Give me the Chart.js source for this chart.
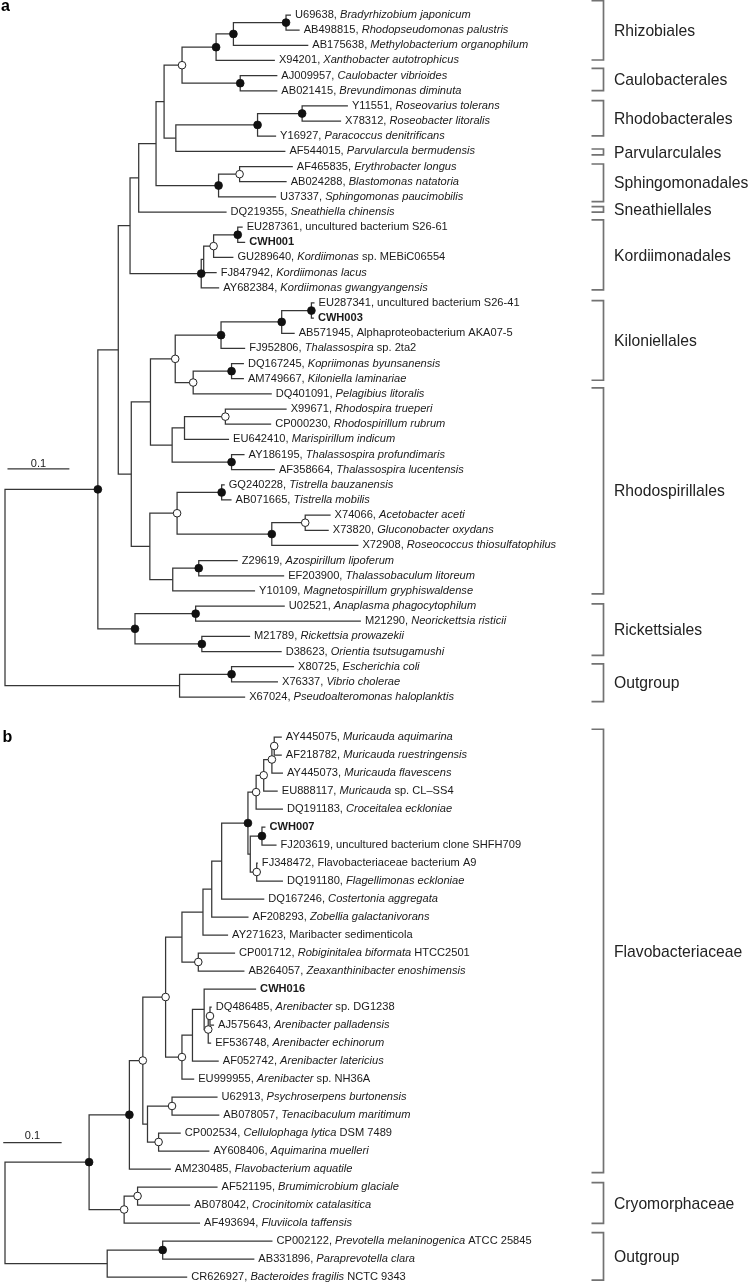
<!DOCTYPE html>
<html>
<head>
<meta charset="utf-8">
<script src="https://cdn.jsdelivr.net/npm/chart.js@4.4.1/dist/chart.umd.min.js"></script>
<style>
  html, body { margin: 0; padding: 0; background: #fff; }
  #wrap { position: relative; width: 750px; height: 1284px; }
  #pa { position: absolute; left: 0; top: 0; width: 750px; height: 720px; }
  #pb { position: absolute; left: 0; top: 720px; width: 750px; height: 564px; }
</style>
</head>
<body>
<div id="wrap">
  <div id="pa"><canvas id="treeA"></canvas></div>
  <div id="pb"><canvas id="treeB"></canvas></div>
</div>
<script>
// ---------- panel a : leaves (top to bottom) ----------
const labelsA = [
  "U69638, *Bradyrhizobium japonicum*",
  "AB498815, *Rhodopseudomonas palustris*",
  "AB175638, *Methylobacterium organophilum*",
  "X94201, *Xanthobacter autotrophicus*",
  "AJ009957, *Caulobacter vibrioides*",
  "AB021415, *Brevundimonas diminuta*",
  "Y11551, *Roseovarius tolerans*",
  "X78312, *Roseobacter litoralis*",
  "Y16927, *Paracoccus denitrificans*",
  "AF544015, *Parvularcula bermudensis*",
  "AF465835, *Erythrobacter longus*",
  "AB024288, *Blastomonas natatoria*",
  "U37337, *Sphingomonas paucimobilis*",
  "DQ219355, *Sneathiella chinensis*",
  "EU287361, uncultured bacterium S26-61",
  "**CWH001**",
  "GU289640, *Kordiimonas* sp. MEBiC06554",
  "FJ847942, *Kordiimonas lacus*",
  "AY682384, *Kordiimonas gwangyangensis*",
  "EU287341, uncultured bacterium S26-41",
  "**CWH003**",
  "AB571945, Alphaproteobacterium AKA07-5",
  "FJ952806, *Thalassospira* sp. 2ta2",
  "DQ167245, *Kopriimonas byunsanensis*",
  "AM749667, *Kiloniella laminariae*",
  "DQ401091, *Pelagibius litoralis*",
  "X99671, *Rhodospira trueperi*",
  "CP000230, *Rhodospirillum rubrum*",
  "EU642410, *Marispirillum indicum*",
  "AY186195, *Thalassospira profundimaris*",
  "AF358664, *Thalassospira lucentensis*",
  "GQ240228, *Tistrella bauzanensis*",
  "AB071665, *Tistrella mobilis*",
  "X74066, *Acetobacter aceti*",
  "X73820, *Gluconobacter oxydans*",
  "X72908, *Roseococcus thiosulfatophilus*",
  "Z29619, *Azospirillum lipoferum*",
  "EF203900, *Thalassobaculum litoreum*",
  "Y10109, *Magnetospirillum gryphiswaldense*",
  "U02521, *Anaplasma phagocytophilum*",
  "M21290, *Neorickettsia risticii*",
  "M21789, *Rickettsia prowazekii*",
  "D38623, *Orientia tsutsugamushi*",
  "X80725, *Escherichia coli*",
  "X76337, *Vibrio cholerae*",
  "X67024, *Pseudoalteromonas haloplanktis*"
];
// distance of each leaf tip from the root (substitutions / site)
const tipsA = [
  0.462, 0.476, 0.490, 0.436, 0.440, 0.440, 0.554, 0.543, 0.438, 0.453,
  0.465, 0.455, 0.438, 0.358, 0.384, 0.388, 0.369, 0.342, 0.346, 0.500,
  0.499, 0.468, 0.388, 0.386, 0.386, 0.431, 0.455, 0.430, 0.362, 0.387,
  0.436, 0.355, 0.366, 0.526, 0.523, 0.571, 0.376, 0.451, 0.404, 0.452,
  0.575, 0.396, 0.447, 0.467, 0.441, 0.388
];
// internal nodes: [id, child, child, depth, support]  f = filled, o = open
const nodesA = [
  ["brady", 0, 1, 0.454, "f"],
  ["rhzA", "brady", 2, 0.369, "f"],
  ["rhz", "rhzA", 3, 0.341, "f"],
  ["caulo", 4, 5, 0.380, "f"],
  ["rc", "rhz", "caulo", 0.286, "o"],
  ["roseo", 6, 7, 0.480, "f"],
  ["rhdb", "roseo", 8, 0.408, "f"],
  ["rp", "rhdb", 9, 0.276, ""],
  ["rcrp", "rc", "rp", 0.257, ""],
  ["ery", 10, 11, 0.379, "o"],
  ["sph", "ery", 12, 0.345, "f"],
  ["s1", "rcrp", "sph", 0.244, ""],
  ["s2", "s1", 13, 0.216, ""],
  ["k1", 14, 15, 0.376, "f"],
  ["k2", "k1", 16, 0.337, "o"],
  ["k3", "k2", 17, 0.321, ""],
  ["kord", "k3", 18, 0.317, "f"],
  ["s3", "s2", "kord", 0.202, ""],
  ["c3", 19, 20, 0.495, "f"],
  ["c3b", "c3", 21, 0.447, "f"],
  ["thal", "c3b", 22, 0.349, "f"],
  ["kop", 23, 24, 0.366, "f"],
  ["pel", "kop", 25, 0.304, "o"],
  ["kilo", "thal", "pel", 0.275, "o"],
  ["rsp1", 26, 27, 0.356, "o"],
  ["rsp2", "rsp1", 28, 0.290, ""],
  ["tprof", 29, 30, 0.366, "f"],
  ["rsp3", "rsp2", "tprof", 0.270, ""],
  ["kr", "kilo", "rsp3", 0.235, ""],
  ["tist", 31, 32, 0.350, "f"],
  ["acet", 33, 34, 0.485, "o"],
  ["acet2", "acet", 35, 0.431, "f"],
  ["ta", "tist", "acet2", 0.278, "o"],
  ["azo", 36, 37, 0.313, "f"],
  ["azo2", "azo", 38, 0.271, ""],
  ["ta2", "ta", "azo2", 0.234, ""],
  ["kr2", "kr", "ta2", 0.204, ""],
  ["alpha", "s3", "kr2", 0.183, ""],
  ["anap", 39, 40, 0.308, "f"],
  ["rick", 41, 42, 0.318, "f"],
  ["ricks", "anap", "rick", 0.210, "f"],
  ["ingr", "alpha", "ricks", 0.150, "f"],
  ["ecoli", 43, 44, 0.366, "f"],
  ["outg", "ecoli", 45, 0.282, ""],
  ["root", "ingr", "outg", 0.000, ""]
];
// clade brackets: [name, from row, to row]
const cladesA = [
  ["Rhizobiales", -0.94, 2.97],
  ["Caulobacterales", 3.52, 4.99],
  ["Rhodobacterales", 5.65, 7.98],
  ["Parvularculales", 8.84, 9.23],
  ["Sphingomonadales", 9.83, 12.32],
  ["Sneathiellales", 12.65, 13.01],
  ["Kordiimonadales", 13.52, 18.14],
  ["Kiloniellales", 18.84, 24.1],
  ["Rhodospirillales", 24.6, 38.19],
  ["Rickettsiales", 38.85, 42.26],
  ["Outgroup", 42.81, 45.3]
];
const scaleBarA = [0.004, 0.1, 29.95]; // start, length, row

// ---------- panel b ----------
const labelsB = [
  "AY445075, *Muricauda aquimarina*",
  "AF218782, *Muricauda ruestringensis*",
  "AY445073, *Muricauda flavescens*",
  "EU888117, *Muricauda* sp. CL–SS4",
  "DQ191183, *Croceitalea eckloniae*",
  "**CWH007**",
  "FJ203619, uncultured bacterium clone SHFH709",
  "FJ348472, Flavobacteriaceae bacterium A9",
  "DQ191180, *Flagellimonas eckloniae*",
  "DQ167246, *Costertonia aggregata*",
  "AF208293, *Zobellia galactanivorans*",
  "AY271623, Maribacter sedimenticola",
  "CP001712, *Robiginitalea biformata* HTCC2501",
  "AB264057, *Zeaxanthinibacter enoshimensis*",
  "**CWH016**",
  "DQ486485, *Arenibacter* sp. DG1238",
  "AJ575643, *Arenibacter palladensis*",
  "EF536748, *Arenibacter echinorum*",
  "AF052742, *Arenibacter latericius*",
  "EU999955, *Arenibacter* sp. NH36A",
  "U62913, *Psychroserpens burtonensis*",
  "AB078057, *Tenacibaculum maritimum*",
  "CP002534, *Cellulophaga lytica* DSM 7489",
  "AY608406, *Aquimarina muelleri*",
  "AM230485, *Flavobacterium aquatile*",
  "AF521195, *Brumimicrobium glaciale*",
  "AB078042, *Crocinitomix catalasitica*",
  "AF493694, *Fluviicola taffensis*",
  "CP002122, *Prevotella melaninogenica* ATCC 25845",
  "AB331896, *Paraprevotella clara*",
  "CR626927, *Bacteroides fragilis* NCTC 9343"
];
const tipsB = [
  0.474, 0.474, 0.476, 0.467, 0.476, 0.446, 0.465, 0.433, 0.476, 0.444,
  0.417, 0.382, 0.394, 0.410, 0.430, 0.354, 0.358, 0.353, 0.366, 0.324,
  0.364, 0.367, 0.301, 0.350, 0.284, 0.364, 0.317, 0.334, 0.458, 0.427,
  0.312
];
const nodesB = [
  ["m1", 0, 1, 0.461, "o"],
  ["m2", "m1", 2, 0.457, "o"],
  ["m3", "m2", 3, 0.443, "o"],
  ["m4", "m3", 4, 0.430, "o"],
  ["c7", 5, 6, 0.440, "f"],
  ["fl", 7, 8, 0.431, "o"],
  ["cf", "c7", "fl", 0.420, ""],
  ["mur", "m4", "cf", 0.416, "f"],
  ["n1", "mur", 9, 0.371, ""],
  ["n2", "n1", 10, 0.354, ""],
  ["n3", "n2", 11, 0.339, ""],
  ["rob", 12, 13, 0.331, "o"],
  ["n4", "n3", "rob", 0.303, ""],
  ["a1", 15, 16, 0.351, "o"],
  ["a2", "a1", 17, 0.348, "o"],
  ["a3", 14, "a2", 0.341, ""],
  ["a4", "a3", 18, 0.321, ""],
  ["a5", "a4", 19, 0.303, "o"],
  ["n5", "n4", "a5", 0.275, "o"],
  ["p1", 20, 21, 0.286, "o"],
  ["p2", 22, 23, 0.263, "o"],
  ["p3", "p1", "p2", 0.244, ""],
  ["n6", "n5", "p3", 0.236, "o"],
  ["flavo", "n6", 24, 0.213, "f"],
  ["cr1", 25, 26, 0.227, "o"],
  ["cryo", "cr1", 27, 0.204, "o"],
  ["ingr", "flavo", "cryo", 0.144, "f"],
  ["prev", 28, 29, 0.270, "f"],
  ["outg", "prev", 30, 0.175, ""],
  ["root", "ingr", "outg", 0.000, ""]
];
const cladesB = [
  ["Flavobacteriaceae", -0.43, 24.2],
  ["Cryomorphaceae", 24.76, 27.02],
  ["Outgroup", 27.54, 30.17]
];
const scaleBarB = [-0.003, 0.1, 22.54];

const FONT = '"Liberation Sans", Arial, Helvetica, sans-serif';
const LINE = '#363636';

// rectangular layout: leaf row = index, node row = mean of its two children
function layoutTree(tips, nodes) {
    const pos = {};
    tips.forEach((d, i) => { pos[i] = { x: d, y: i }; });
    const segs = [], filled = [], open = [];
    nodes.forEach(([id, a, b, depth, sup]) => {
        const pa = pos[a], pb = pos[b];
        const y = (pa.y + pb.y) / 2;
        pos[id] = { x: depth, y: y };
        segs.push([
            { x: pa.x, y: pa.y }, { x: depth, y: pa.y },
            { x: depth, y: pb.y }, { x: pb.x, y: pb.y }
        ]);
        if (sup === 'f') filled.push({ x: depth, y: y });
        if (sup === 'o') open.push({ x: depth, y: y });
    });
    return { segs, filled, open };
}

// "*italic*" and "**bold**" runs
function drawRich(ctx, str, x, y, size) {
    const parts = str.split(/(\*\*[^*]+\*\*|\*[^*]+\*)/).filter(Boolean);
    parts.forEach(p => {
        let style = '', t = p;
        if (p.startsWith('**')) { style = 'bold '; t = p.slice(2, -2); }
        else if (p.startsWith('*')) { style = 'italic '; t = p.slice(1, -1); }
        ctx.font = style + size + 'px ' + FONT;
        ctx.fillText(t, x, y);
        x += ctx.measureText(t).width;
    });
}

function annotations(p) {
    return {
        id: 'ann' + p.letter,
        afterDatasetsDraw(chart) {
            const ctx = chart.ctx, xs = chart.scales.x, ys = chart.scales.y;
            ctx.save();
            ctx.textAlign = 'left';
            ctx.textBaseline = 'alphabetic';
            ctx.fillStyle = '#1a1a1a';
            // leaf labels
            p.labels.forEach((lab, i) => {
                drawRich(ctx, lab, xs.getPixelForValue(p.tips[i]) + 4, ys.getPixelForValue(i) + 3, 11.1);
            });
            // clade brackets
            ctx.strokeStyle = '#727272';
            ctx.lineWidth = 1.7;
            p.clades.forEach(([name, r0, r1]) => {
                const y0 = ys.getPixelForValue(r0), y1 = ys.getPixelForValue(r1);
                ctx.beginPath();
                ctx.moveTo(591.5, y0); ctx.lineTo(603.5, y0);
                ctx.lineTo(603.5, y1); ctx.lineTo(591.5, y1);
                ctx.stroke();
                ctx.font = '15.7px ' + FONT;
                ctx.fillStyle = '#222';
                ctx.fillText(name, 614, (y0 + y1) / 2 + 5.6);
            });
            // scale bar text
            const [s0, len, row] = p.scale;
            ctx.font = '11px ' + FONT;
            ctx.textAlign = 'center';
            ctx.fillStyle = '#1a1a1a';
            ctx.fillText(String(len), (xs.getPixelForValue(s0) + xs.getPixelForValue(s0 + len)) / 2,
                ys.getPixelForValue(row) - p.scaleGap);
            // panel letter
            ctx.textAlign = 'left';
            ctx.font = 'bold 16px ' + FONT;
            ctx.fillStyle = '#000';
            ctx.fillText(p.letter, p.letterPos[0], p.letterPos[1]);
            ctx.restore();
        }
    };
}

function drawTree(canvasId, p) {
    const t = layoutTree(p.tips, p.nodes);
    const datasets = t.segs.map(s => ({
        data: s, showLine: true, borderColor: LINE, borderWidth: 1.25,
        pointRadius: 0, fill: false, tension: 0, clip: false, order: 2,
        borderJoinStyle: 'miter', borderCapStyle: 'butt'
    }));
    const [s0, len, row] = p.scale;
    datasets.push({
        data: [{ x: s0, y: row }, { x: s0 + len, y: row }], showLine: true,
        borderColor: LINE, borderWidth: 1.25, pointRadius: 0, clip: false, order: 2
    });
    datasets.push({
        data: t.filled, pointRadius: 3.9, pointBackgroundColor: '#111',
        pointBorderColor: '#111', pointBorderWidth: 0.8, clip: false, order: 0
    });
    datasets.push({
        data: t.open, pointRadius: 3.8, pointBackgroundColor: '#fff',
        pointBorderColor: '#222', pointBorderWidth: 1, clip: false, order: 0
    });

    new Chart(document.getElementById(canvasId).getContext('2d'), {
        type: 'scatter',
        data: { datasets },
        options: {
            responsive: true,
            maintainAspectRatio: false,
            animation: false,
            events: [],
            layout: { padding: p.padding },
            plugins: { legend: { display: false }, tooltip: { enabled: false } },
            scales: {
                x: { type: 'linear', min: 0, max: 1, display: false },
                y: { type: 'linear', min: 0, max: p.tips.length - 1, reverse: true, display: false }
            }
        },
        plugins: [annotations(p)]
    });
}

drawTree('treeA', {
    letter: 'a', letterPos: [1, 11],
    labels: labelsA, tips: tipsA, nodes: nodesA, clades: cladesA,
    scale: scaleBarA, scaleGap: 2,
    padding: { top: 15, bottom: 23, left: 1, right: 126 }
});
drawTree('treeB', {
    letter: 'b', letterPos: [2.5, 21.7],
    labels: labelsB, tips: tipsB, nodes: nodesB, clades: cladesB,
    scale: scaleBarB, scaleGap: 3.5,
    padding: { top: 17, bottom: 7, left: 5, right: 161 }
});
</script>
</body>
</html>
